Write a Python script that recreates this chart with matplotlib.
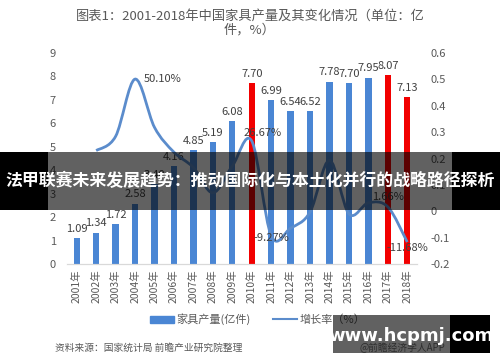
import numpy as np
import matplotlib
matplotlib.use("Agg")
import matplotlib.pyplot as plt
from matplotlib.path import Path
from matplotlib.patches import PathPatch, Rectangle
from matplotlib.lines import Line2D

plt.rcParams['font.family'] = ['Noto Sans CJK SC', 'DejaVu Sans']

# data
years = ["2001年", "2002年", "2003年", "2004年", "2005年", "2006年", "2007年", "2008年", "2009年",
         "2010年", "2011年", "2012年", "2013年", "2014年", "2015年", "2016年", "2017年", "2018年"]
output = [1.09, 1.34, 1.72, 2.58, 3.40, 4.16, 4.85, 5.19, 6.08,
          7.70, 6.99, 6.54, 6.52, 7.78, 7.70, 7.95, 8.07, 7.13]
output_labels = ["1.09", "1.34", "1.72", "2.58", "3.40", "4.16", "4.85", "5.19", "6.08",
                 "7.70", "6.99", "6.54", "6.52", "7.78", "7.70", "7.95", "8.07", "7.13"]
highlight = ["2010年", "2017年", "2018年"]
# growth rate starts at 2002
growth = [0.230, 0.284, 0.501, 0.318, 0.224, 0.166, 0.070, 0.171,
          0.2667, -0.0927, -0.064, -0.003, 0.193, -0.010, 0.032, 0.0166, -0.1168]
growth_labels = {"2004年": "50.10%", "2010年": "26.67%", "2011年": "-9.27%",
                 "2017年": "1.66%", "2018年": "-11.68%"}

blue = "#4a86d4"
red = "#f20000"
line_col = "#5b8ccc"
gray = "#595959"

fig = plt.figure(figsize=(5, 3.62), dpi=100)
ax = fig.add_axes([0.134, 0.2707, 0.70, 0.5829])
ax2 = ax.twinx()

x = np.arange(len(years))
colors = [red if y in highlight else blue for y in years]
ax.bar(x, output, width=0.33, color=colors, zorder=2)
ax.set_xlim(-0.5, len(years) - 0.5)
ax.set_ylim(0, 9)
ax.set_yticks(range(0, 10))
ax.set_xticks(x)
ax.set_xticklabels(years, rotation=90, fontsize=7.5, color=gray)

for i, v in enumerate(output):
    ax.annotate(output_labels[i], (i, v), xytext=(0, 3), textcoords="offset points",
                ha="center", va="bottom", fontsize=8, color="#404040", zorder=5)

# smooth growth line (bezier through the points, like excel's smoothed line)
gx = x[1:].astype(float)
gy = np.array(growth)
verts = [(gx[0], gy[0])]
codes = [Path.MOVETO]
n = len(gx)
for i in range(n - 1):
    p0 = np.array([gx[max(i - 1, 0)], gy[max(i - 1, 0)]])
    p1 = np.array([gx[i], gy[i]])
    p2 = np.array([gx[i + 1], gy[i + 1]])
    p3 = np.array([gx[min(i + 2, n - 1)], gy[min(i + 2, n - 1)]])
    c1 = p1 + (p2 - p0) / 6
    c2 = p2 - (p3 - p1) / 6
    verts += [tuple(c1), tuple(c2), tuple(p2)]
    codes += [Path.CURVE4] * 3
ax2.add_patch(PathPatch(Path(verts, codes), facecolor="none", edgecolor=line_col,
                        lw=2, zorder=3))
ax2.set_ylim(-0.2, 0.6)
ax2.set_yticks([-0.2, -0.1, 0, 0.1, 0.2, 0.3, 0.4, 0.5, 0.6])
ax2.set_yticklabels(["-0.2", "-0.1", "0", "0.1", "0.2", "0.3", "0.4", "0.5", "0.6"])

offsets = {"2004年": (6, 0, "left"), "2010年": (-6, 6, "left"), "2011年": (0, -2, "center"),
           "2017年": (0, 7, "center"), "2018年": (0, -4, "center")}
for y, lab in growth_labels.items():
    i = years.index(y)
    dx, dy, ha = offsets[y]
    ax2.annotate(lab, (i, growth[i - 1]), xytext=(dx, dy), textcoords="offset points",
                 ha=ha, va="center", fontsize=8, color="#404040", zorder=6)

for a in (ax, ax2):
    for s in ("top", "left", "right"):
        a.spines[s].set_visible(False)
    a.spines["bottom"].set_color("#d9d9d9")
    a.tick_params(length=0, colors=gray, labelsize=8)
ax.tick_params(axis="y", pad=8)
ax2.tick_params(axis="y", pad=10)
ax.tick_params(axis="x", pad=4, labelsize=7.5)

fig.text(0.5, 0.955, "图表1：2001-2018年中国家具产量及其变化情况（单位：亿", ha="center",
         va="center", fontsize=9.5, color=gray)
fig.text(0.5, 0.917, "件，%）", ha="center", va="center", fontsize=9.5, color=gray)

handles = [Rectangle((0, 0), 1, 1, color=blue), Line2D([0], [0], color=line_col, lw=1.5)]
fig.legend(handles, ["家具产量(亿件)", "增长率（%）"], loc="center", bbox_to_anchor=(0.515, 0.118),
           ncol=2, frameon=False, fontsize=8, labelcolor=gray, handlelength=2.2,
           handleheight=0.6, columnspacing=2.0, handletextpad=0.2)

fig.text(0.11, 0.038, "资料来源：国家统计局 前瞻产业研究院整理", fontsize=7, color=gray,
         style="italic", va="center")
fig.text(0.72, 0.038, "@前瞻经济学人APP", fontsize=7, color="#777777", va="center")

# overlay banner
fig.patches.append(Rectangle((0, 1 - 210 / 362), 1, 58 / 362, transform=fig.transFigure,
                             facecolor="black", alpha=0.62, zorder=10))
fig.patches.append(Rectangle((0, 1 - 210 / 362), 48 / 500, 58 / 362, transform=fig.transFigure,
                             facecolor="black", zorder=10))
fig.patches.append(Rectangle((452 / 500, 1 - 210 / 362), 48 / 500, 58 / 362,
                             transform=fig.transFigure, facecolor="black", zorder=10))
fig.text(0.5, 1 - 181 / 362, "法甲联赛未来发展趋势：推动国际化与本土化并行的战略路径探析",
         ha="center", va="center", fontsize=12.2, color="white", fontweight="bold", zorder=11)

# watermark box
fig.patches.append(Rectangle((333 / 500, 1 - 353 / 362), 117 / 500, 38 / 362,
                             transform=fig.transFigure, facecolor="black", alpha=0.62, zorder=10))
fig.patches.append(Rectangle((450 / 500, 1 - 353 / 362), 40 / 500, 38 / 362,
                             transform=fig.transFigure, facecolor="black", zorder=10))
fig.text(411 / 500, 1 - 336 / 362, "www.hcpmj.com", ha="center", va="center", fontsize=13,
         color="white", fontweight="bold", family="DejaVu Sans", zorder=11)

fig.savefig("out.png", dpi=100, facecolor="white")
